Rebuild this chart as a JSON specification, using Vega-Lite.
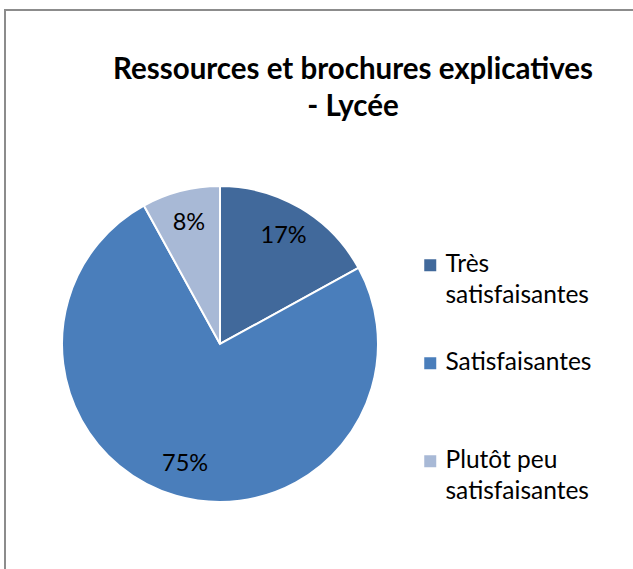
{
  "$schema": "https://vega.github.io/schema/vega-lite/v6.json",
  "width": 640,
  "height": 580,
  "autosize": {"type": "none"},
  "padding": {"left": 5, "top": 10, "right": 0, "bottom": 0},
  "background": "white",
  "view": {"stroke": "#8c8c8c", "strokeWidth": 2, "fill": "white"},
  "config": {"style": {"guide-label": {"lineHeight": 31}}},
  "title": {
    "text": ["Ressources et brochures explicatives", "- Lycée"],
    "font": "Lato",
    "fontSize": 29.5,
    "fontWeight": "bold",
    "color": "black",
    "anchor": "middle",
    "frame": "group",
    "dx": 28,
    "offset": -112,
    "lineHeight": 37
  },
  "data": {
    "values": [
      {"categorie": "Très satisfaisantes", "part": 0.17, "ordre": 1},
      {"categorie": "Satisfaisantes", "part": 0.75, "ordre": 2},
      {"categorie": "Plutôt peu satisfaisantes", "part": 0.08, "ordre": 3}
    ]
  },
  "encoding": {
    "theta": {"field": "part", "type": "quantitative", "stack": true},
    "order": {"field": "ordre", "type": "quantitative"}
  },
  "layer": [
    {
      "mark": {"type": "arc", "outerRadius": 158, "stroke": "white", "strokeWidth": 2},
      "encoding": {
        "x": {"value": 215},
        "y": {"value": 334},
        "color": {
          "field": "categorie",
          "type": "nominal",
          "scale": {
            "domain": ["Très satisfaisantes", "Satisfaisantes", "Plutôt peu satisfaisantes"],
            "range": ["#41699B", "#4A7EBB", "#A8B9D6"]
          },
          "legend": {
            "title": null,
            "orient": "none",
            "legendX": 413,
            "legendY": 243,
            "padding": 0,
            "symbolType": "square",
            "symbolSize": 144,
            "symbolStrokeWidth": 0,
            "labelFont": "Lato",
            "labelFontSize": 24.5,
            "labelColor": "black",
            "labelLimit": 300,
            "labelOffset": 3,
            "labelBaseline": "middle",
            "rowPadding": 42,
            "encode": {"labels": {"update": {"lineHeight": {"value": 31}}}},
            "labelExpr": "datum.label == 'Très satisfaisantes' ? ['Très', 'satisfaisantes'] : datum.label == 'Plutôt peu satisfaisantes' ? ['Plutôt peu', 'satisfaisantes'] : [datum.label, '']"
          }
        }
      }
    },
    {
      "mark": {"type": "text", "radius": 125, "font": "Lato", "fontSize": 23.5, "color": "black"},
      "encoding": {
        "x": {"value": 215},
        "y": {"value": 334},
        "text": {"field": "part", "type": "quantitative", "format": ".0%"}
      }
    }
  ]
}
